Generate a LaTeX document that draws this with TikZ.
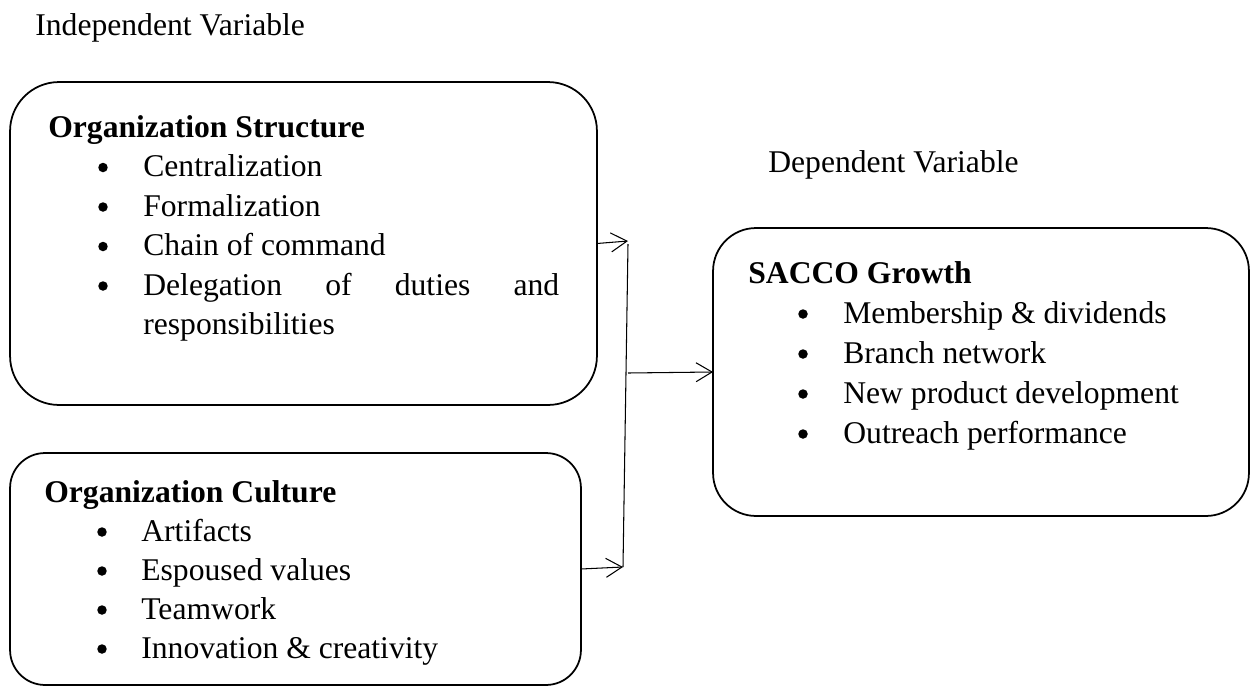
\documentclass[tikz,border=0pt]{standalone}
\usepackage{fontspec}
\setmainfont{Liberation Serif}
\usetikzlibrary{arrows.meta}
\begin{document}
\begin{tikzpicture}[x=0.02cm,y=-0.02cm,
  box/.style={draw,line width=1pt,rounded corners=#1,inner sep=0pt,outer sep=0pt},
  txt/.style={anchor=base west,inner sep=0pt,font=\fontsize{18}{22}\selectfont},
  hd/.style={anchor=base west,inner sep=0pt,font=\fontsize{18}{22}\selectfont\bfseries},
  bul/.style={circle,fill=black,inner sep=0pt,minimum size=0.19cm},
  arr/.style={line width=0.6pt,-{Straight Barb[length=3.2mm,width=3.8mm]}},
  link/.style={line width=0.6pt}]
\useasboundingbox (0,0) rectangle (1252,687);

% boxes
\node[box=0.98cm,minimum width=11.74cm,minimum height=6.46cm] (b1) at (303.5,243.5) {};
\node[box=0.7cm,minimum width=11.42cm,minimum height=4.64cm] (b2) at (295.5,569) {};
\node[box=0.86cm,minimum width=10.72cm,minimum height=5.76cm] (b3) at (981,372) {};

% labels
\node[txt] (iv) at (35,35) {Independent Variable};
\node[txt] (dv) at (768,172) {Dependent Variable};

% box 1
\node[hd] (h1) at (48,137) {Organization Structure};
\node[bul] (p11) at (103,167.5) {};
\node[txt] (s11) at (143,176.5) {Centralization};
\node[bul] (p12) at (103,207) {};
\node[txt] (s12) at (143,216) {Formalization};
\node[bul] (p13) at (103,246.5) {};
\node[txt] (s13) at (143,255.5) {Chain of command};
\node[bul] (p14) at (103,286) {};
\node[txt] (s14) at (143,295) {\makebox[8.32cm][s]{Delegation of duties and}};
\node[txt] (s15) at (143,334.5) {responsibilities};

% box 2
\node[hd] (h2) at (44,502) {Organization Culture};
\node[bul] (p21) at (102,532) {};
\node[txt] (s21) at (141,541) {Artifacts};
\node[bul] (p22) at (102,571) {};
\node[txt] (s22) at (141,580) {Espoused values};
\node[bul] (p23) at (102,610) {};
\node[txt] (s23) at (141,619) {Teamwork};
\node[bul] (p24) at (102,649) {};
\node[txt] (s24) at (141,658) {Innovation \& creativity};

% box 3
\node[hd] (h3) at (748,283) {SACCO Growth};
\node[bul] (p31) at (803,314) {};
\node[txt] (s31) at (843,323) {Membership \& dividends};
\node[bul] (p32) at (803,354) {};
\node[txt] (s32) at (843,363) {Branch network};
\node[bul] (p33) at (803,394) {};
\node[txt] (s33) at (843,403) {New product development};
\node[bul] (p34) at (803,434) {};
\node[txt] (s34) at (843,443) {Outreach performance};

% connectors
\coordinate (jt) at (628,241);
\coordinate (jv) at (628,244);
\coordinate (jb) at (623,567);
\coordinate (jm) at (628,373);
\draw[arr] (b1.east) -- (jt);
\draw[arr] (b2.east) -- (jb);
\draw[link] (jv) -- (jb);
\draw[arr] (jm) -- (b3.west);
\end{tikzpicture}
\end{document}
